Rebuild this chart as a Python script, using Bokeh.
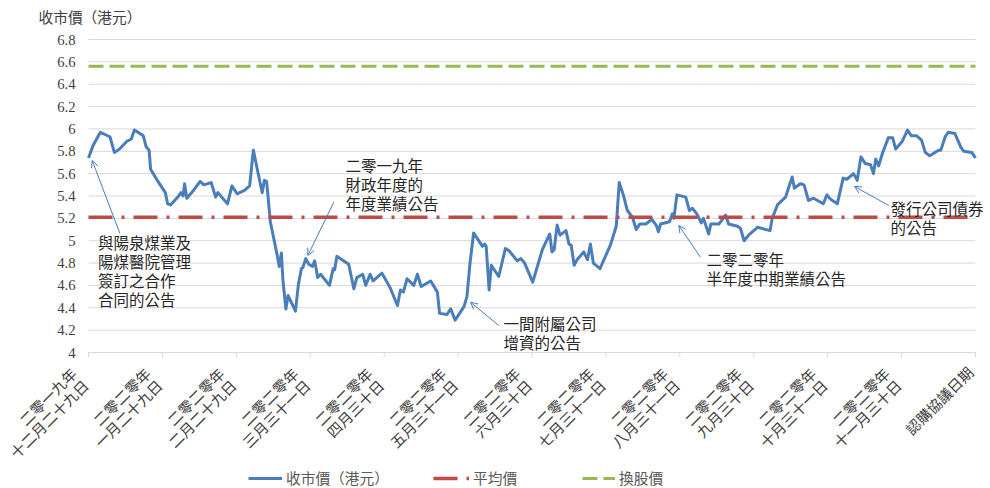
import math
from bokeh.plotting import figure
from bokeh.models import Range1d, Label, Arrow, OpenHead, Legend, LegendItem
from bokeh.core.properties import value
from bokeh.embed import file_html
from bokeh.resources import INLINE

# ---------------- data ----------------
tick_labels = [
    ["二零一九年", "十二月二十九日"],
    ["二零二零年", "一月二十九日"],
    ["二零二零年", "二月二十九日"],
    ["二零二零年", "三月三十一日"],
    ["二零二零年", "四月三十日"],
    ["二零二零年", "五月三十一日"],
    ["二零二零年", "六月三十日"],
    ["二零二零年", "七月三十一日"],
    ["二零二零年", "八月三十一日"],
    ["二零二零年", "九月三十日"],
    ["二零二零年", "十月三十一日"],
    ["二零二零年", "十一月三十日"],
    ["認購協議日期"],
]

# time position in months after 2019-12-29 (category ticks at 0..12)
t_pos = [
    0.00, 0.06, 0.16, 0.29, 0.35, 0.42, 0.52, 0.58, 0.62, 0.74,
    0.78, 0.82, 0.84, 0.93, 1.04, 1.07, 1.11, 1.22, 1.25, 1.28,
    1.30, 1.33, 1.42, 1.51, 1.56, 1.66, 1.72, 1.75, 1.88, 1.94,
    2.01, 2.11, 2.18, 2.23, 2.28, 2.35, 2.38, 2.41, 2.46, 2.55,
    2.58, 2.61, 2.63, 2.67, 2.70, 2.80, 2.84, 2.88, 2.90, 2.94,
    2.98, 3.03, 3.06, 3.10, 3.14, 3.26, 3.31, 3.33, 3.36, 3.52,
    3.59, 3.63, 3.71, 3.75, 3.81, 3.85, 3.97, 4.08, 4.18, 4.22,
    4.26, 4.31, 4.40, 4.45, 4.50, 4.63, 4.72, 4.75, 4.85, 4.90,
    4.96, 5.08, 5.12, 5.16, 5.21, 5.33, 5.36, 5.38, 5.42, 5.45,
    5.55, 5.64, 5.69, 5.80, 5.85, 5.90, 6.01, 6.14, 6.24, 6.27,
    6.30, 6.34, 6.38, 6.46, 6.50, 6.53, 6.57, 6.61, 6.70, 6.75,
    6.79, 6.83, 6.92, 7.06, 7.14, 7.18, 7.24, 7.29, 7.36, 7.41,
    7.46, 7.54, 7.62, 7.68, 7.71, 7.74, 7.86, 7.90, 7.92, 7.96,
    8.08, 8.13, 8.17, 8.23, 8.29, 8.32, 8.39, 8.42, 8.53, 8.62,
    8.66, 8.78, 8.82, 8.87, 8.93, 9.05, 9.22, 9.25, 9.32, 9.43,
    9.52, 9.55, 9.63, 9.68, 9.74, 9.81, 9.94, 9.99, 10.04, 10.13,
    10.21, 10.26, 10.35, 10.40, 10.45, 10.51, 10.58, 10.62, 10.65, 10.69,
    10.74, 10.82, 10.88, 10.92, 11.01, 11.08, 11.13, 11.20, 11.27, 11.32,
    11.38, 11.50, 11.53, 11.59, 11.63, 11.72, 11.80, 11.84, 11.95, 12.00,
]

close_price = [
    5.74, 5.85, 5.97, 5.93, 5.79, 5.82, 5.89, 5.91, 5.99, 5.94,
    5.84, 5.81, 5.64, 5.54, 5.43, 5.33, 5.32, 5.40, 5.43, 5.40,
    5.51, 5.38, 5.45, 5.53, 5.50, 5.52, 5.39, 5.43, 5.33, 5.49,
    5.42, 5.45, 5.49, 5.81, 5.65, 5.43, 5.54, 5.53, 5.17, 4.88,
    4.77, 4.89, 4.65, 4.39, 4.51, 4.37, 4.61, 4.75, 4.76, 4.84,
    4.79, 4.77, 4.82, 4.67, 4.70, 4.60, 4.75, 4.74, 4.86, 4.79,
    4.57, 4.67, 4.70, 4.60, 4.70, 4.64, 4.71, 4.58, 4.42, 4.56,
    4.54, 4.66, 4.60, 4.70, 4.59, 4.64, 4.54, 4.35, 4.34, 4.39,
    4.29, 4.41, 4.50, 4.79, 5.07, 4.95, 4.97, 4.95, 4.56, 4.78,
    4.68, 4.93, 4.91, 4.82, 4.84, 4.80, 4.63, 4.92, 5.06, 4.90,
    4.92, 5.14, 5.05, 5.09, 4.97, 4.96, 4.78, 4.83, 4.90, 4.83,
    4.97, 4.80, 4.75, 4.96, 5.13, 5.52, 5.40, 5.27, 5.21, 5.10,
    5.15, 5.15, 5.19, 5.14, 5.08, 5.15, 5.17, 5.24, 5.20, 5.41,
    5.39, 5.27, 5.29, 5.24, 5.16, 5.20, 5.06, 5.15, 5.15, 5.23,
    5.15, 5.13, 5.11, 5.00, 5.05, 5.12, 5.09, 5.20, 5.32, 5.39,
    5.57, 5.47, 5.51, 5.50, 5.36, 5.38, 5.33, 5.41, 5.37, 5.33,
    5.56, 5.55, 5.60, 5.54, 5.75, 5.69, 5.68, 5.60, 5.73, 5.67,
    5.78, 5.92, 5.92, 5.82, 5.89, 5.99, 5.94, 5.94, 5.90, 5.79,
    5.76, 5.81, 5.81, 5.93, 5.97, 5.96, 5.84, 5.80, 5.79, 5.74,
]

avg_price = 5.21
conv_price = 6.56
y_ticks = [4.0, 4.2, 4.4, 4.6, 4.8, 5.0, 5.2, 5.4, 5.6, 5.8, 6.0, 6.2, 6.4, 6.6, 6.8]
x_ticks = list(range(len(tick_labels)))

series_names = ["收市價（港元）", "平均價", "換股價"]
title_text = "收市價（港元）"

notes = [
    ["與陽泉煤業及", "陽煤醫院管理", "簽訂之合作", "合同的公告"],
    ["二零一九年", "財政年度的", "年度業績公告"],
    ["一間附屬公司", "增資的公告"],
    ["二零二零年", "半年度中期業績公告"],
    ["發行公司債券", "的公告"],
]

# ---------------- layout (canvas pixels) ----------------
W, H = 990, 488
FL, FR, FT, FB = 88, 975, 39, 352          # plot area in canvas pixels
NCAT = len(tick_labels) - 1
YMIN, YMAX = y_ticks[0], y_ticks[-1]
PX_PER_CAT = (FR - FL) / NCAT


def tx(px):
    return (px - FL) / PX_PER_CAT


def vy(py):
    return YMAX - (py - FT) / (FB - FT) * (YMAX - YMIN)


CJK = "Noto Sans CJK TC"
SERIF = "Liberation Serif"
BLUE = "#4A7EBB"
RED = "#BE4B48"
GREEN = "#98B954"
GRID = "#D9D9D9"
TXT = "#404040"

p = figure(width=W, height=H, x_range=Range1d(tx(0), tx(W)), y_range=Range1d(vy(H), vy(0)),
           output_backend="svg", toolbar_location=None,
           x_axis_type=None, y_axis_type=None,
           min_border_left=0, min_border_right=0, min_border_top=0, min_border_bottom=0)
p.outline_line_color = None
p.background_fill_color = "white"
p.border_fill_color = "white"
p.xgrid.visible = False
p.ygrid.visible = False

# horizontal grid lines
n_y = len(y_ticks)
p.segment(x0=[x_ticks[0]] * n_y, x1=[x_ticks[-1]] * n_y, y0=y_ticks, y1=y_ticks,
          line_color=GRID, line_width=1)
# category axis line + tick marks
p.segment(x0=[x_ticks[0]], x1=[x_ticks[-1]], y0=[YMIN], y1=[YMIN], line_color=GRID, line_width=1)
p.segment(x0=x_ticks, x1=x_ticks, y0=[YMIN] * len(x_ticks), y1=[vy(FB + 5)] * len(x_ticks),
          line_color=GRID, line_width=1)

# y tick labels
y_text = [("%.1f" % v).rstrip("0").rstrip(".") for v in y_ticks]
p.text(x=[tx(FL - 13)] * n_y, y=y_ticks, text=y_text, text_align="right",
       text_baseline="middle", text_font=value(SERIF), text_font_size="14.7px",
       text_color=TXT)

# series
r_close = p.line(t_pos, close_price, line_color=BLUE, line_width=3, line_join="round")
r_avg = p.line([x_ticks[0], x_ticks[-1]], [avg_price, avg_price], line_color=RED,
               line_width=3.5, line_dash="24 9 3 9")
r_conv = p.line([x_ticks[0], x_ticks[-1]], [conv_price, conv_price], line_color=GREEN,
                line_width=3, line_dash="15 6")

# rotated category labels (each line right-aligned at its own anchor)
lx, ly, lt = [], [], []
for i, lines in zip(x_ticks, tick_labels):
    if len(lines) == 2:
        offs = [(-15.0, 370.0), (-3.3, 381.7)]
    else:
        offs = [(-5.5, 368.5)]
    for txt, (dx, py) in zip(lines, offs):
        lx.append(i + dx / PX_PER_CAT)
        ly.append(vy(py))
        lt.append(txt)
p.text(x=lx, y=ly, text=lt, angle=math.pi / 4, text_align="right", text_baseline="middle",
       text_font=value(CJK), text_font_size="14.7px", text_color=TXT)

# title
p.add_layout(Label(x=tx(38), y=vy(15.5), text=title_text, text_align="left",
                   text_baseline="middle", text_font=CJK, text_font_size="14.7px",
                   text_color=TXT))

# annotation texts
note_pos = [(97.5, [241.5, 260.5, 279.5, 298.5]),
            (345, [164.5, 183.5, 202.5]),
            (503, [322.5, 341]),
            (706, [258.5, 277.5]),
            (890, [207, 226.5])]
for lines, (nx, ys) in zip(notes, note_pos):
    for txt, ny in zip(lines, ys):
        p.add_layout(Label(x=tx(nx), y=vy(ny), text=txt, text_align="left",
                           text_baseline="middle", text_font=CJK, text_font_size="15.5px",
                           text_color="#262626"))

# arrows
arrows = [(119.3, 232.7, 91.7, 160), (333.3, 201.7, 307.3, 255), (498.3, 325, 470, 301.7),
          (700, 256.7, 678.3, 225), (888.3, 205, 854, 186)]
for x0, y0, x1, y1 in arrows:
    p.add_layout(Arrow(end=OpenHead(size=7, line_color=BLUE, line_width=1),
                       x_start=tx(x0), y_start=vy(y0), x_end=tx(x1), y_end=vy(y1),
                       line_color=BLUE, line_width=1))

# legends (three single-item legends at the bottom)
for r, name, x0, gw in [(r_close, series_names[0], 248, 34),
                        (r_avg, series_names[1], 433, 36),
                        (r_conv, series_names[2], 582, 33)]:
    lg = Legend(items=[LegendItem(label=name, renderers=[r])],
                location=(x0, 0), orientation="horizontal",
                glyph_width=gw, glyph_height=14, label_height=14, label_standoff=4,
                padding=0, margin=0, spacing=0, border_line_color=None,
                background_fill_alpha=0, label_text_font=CJK,
                label_text_font_size="14.7px", label_text_color="#595959")
    p.add_layout(lg)

open("out.html", "w").write(file_html(p, INLINE))
